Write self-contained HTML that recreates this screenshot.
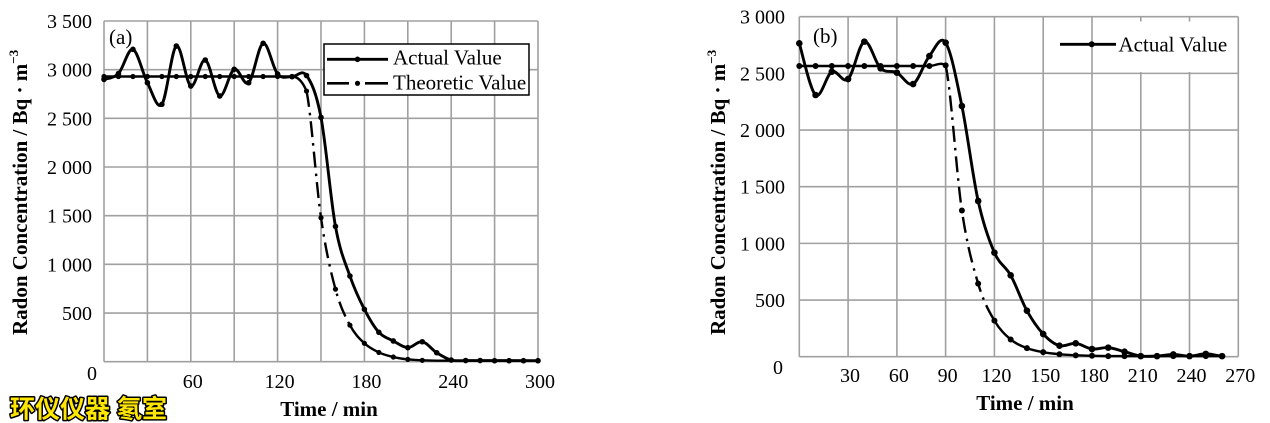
<!DOCTYPE html>
<html><head><meta charset="utf-8">
<style>html,body{margin:0;padding:0;background:#fff;}svg{display:block}</style>
</head><body>
<svg width="1270" height="423" xmlns="http://www.w3.org/2000/svg" font-family="'Liberation Serif', 'Times New Roman', serif">
<rect width="1270" height="423" fill="#fff"/>
<!-- Grid (a) -->
<g stroke="#a0a0a0" stroke-width="1.6" fill="none">
  <line x1="104" y1="21" x2="104" y2="361.7"/>
  <line x1="147.4" y1="21" x2="147.4" y2="361.7"/>
  <line x1="190.8" y1="21" x2="190.8" y2="361.7"/>
  <line x1="234.2" y1="21" x2="234.2" y2="361.7"/>
  <line x1="277.6" y1="21" x2="277.6" y2="361.7"/>
  <line x1="321" y1="21" x2="321" y2="361.7"/>
  <line x1="364.4" y1="21" x2="364.4" y2="361.7"/>
  <line x1="407.8" y1="21" x2="407.8" y2="361.7"/>
  <line x1="451.2" y1="21" x2="451.2" y2="361.7"/>
  <line x1="494.6" y1="21" x2="494.6" y2="361.7"/>
  <line x1="538" y1="21" x2="538" y2="361.7"/>
  <line x1="104" y1="21" x2="538" y2="21"/>
  <line x1="104" y1="69.67" x2="538" y2="69.67"/>
  <line x1="104" y1="118.34" x2="538" y2="118.34"/>
  <line x1="104" y1="167.01" x2="538" y2="167.01"/>
  <line x1="104" y1="215.68" x2="538" y2="215.68"/>
  <line x1="104" y1="264.35" x2="538" y2="264.35"/>
  <line x1="104" y1="313.02" x2="538" y2="313.02"/>
  <line x1="104" y1="361.69" x2="538" y2="361.69"/>
</g>
<!-- Grid (b) -->
<g stroke="#a0a0a0" stroke-width="1.6" fill="none">
  <line x1="799.3" y1="16.7" x2="799.3" y2="356.7"/>
  <line x1="848.1" y1="16.7" x2="848.1" y2="356.7"/>
  <line x1="896.9" y1="16.7" x2="896.9" y2="356.7"/>
  <line x1="945.6" y1="16.7" x2="945.6" y2="356.7"/>
  <line x1="994.4" y1="16.7" x2="994.4" y2="356.7"/>
  <line x1="1043.2" y1="16.7" x2="1043.2" y2="356.7"/>
  <line x1="1092" y1="16.7" x2="1092" y2="356.7"/>
  <line x1="1140.8" y1="16.7" x2="1140.8" y2="356.7"/>
  <line x1="1189.5" y1="16.7" x2="1189.5" y2="356.7"/>
  <line x1="1238.3" y1="16.7" x2="1238.3" y2="356.7"/>
  <line x1="799.3" y1="16.7" x2="1238.3" y2="16.7"/>
  <line x1="799.3" y1="73.37" x2="1238.3" y2="73.37"/>
  <line x1="799.3" y1="130.04" x2="1238.3" y2="130.04"/>
  <line x1="799.3" y1="186.71" x2="1238.3" y2="186.71"/>
  <line x1="799.3" y1="243.38" x2="1238.3" y2="243.38"/>
  <line x1="799.3" y1="300.05" x2="1238.3" y2="300.05"/>
  <line x1="799.3" y1="356.72" x2="1238.3" y2="356.72"/>
</g>
<!-- legend backgrounds -->
<rect x="324" y="44" width="205" height="51" fill="#fff" stroke="#000" stroke-width="1.5"/>
<rect x="1095" y="21.5" width="141.5" height="50.5" fill="#fff"/>

<!-- ===== Series (a) ===== -->
<g fill="none" stroke="#000" stroke-linejoin="round">
  <!-- theoretical -->
  <path stroke-width="2.4" stroke-linecap="round" d="M104 76.49 L292.07 76.49 C297 76.49 302 80 306.53 91.09"/>
  <path stroke-width="2.4" stroke-dasharray="16 6 2.5 6" d="M306.53 91.09 C311.35 114.63 316.18 184.71 321.00 217.73 S330.65 271.27 335.47 289.18 S345.11 316.18 349.93 325.20"/>
  <path stroke-width="2.4" stroke-linecap="round" d="M349.93 325.20 C354.75 334.22 359.58 338.76 364.40 343.30 S374.05 350.16 378.87 352.45 S388.51 355.88 393.33 357.03 S402.98 358.81 407.80 359.36 S417.45 360.11 422.27 360.34 L436.73 360.73 L538 360.73"/>
  <!-- actual -->
  <path stroke-width="2.9" stroke-linecap="round" d="M104 79.41 C106.41 78.44 113.65 78.58 118.47 73.57 S128.11 47.82 132.93 49.34 S142.58 73.56 147.40 82.72 S157.05 110.45 161.87 104.33 S171.51 49.08 176.33 46.03 S185.98 83.70 190.80 86.03 S200.45 58.39 205.27 60.04 S214.91 94.42 219.73 95.96 S229.38 71.50 234.20 69.29 S243.85 87.05 248.67 82.72 S258.31 44.76 263.13 43.30 S272.78 68.40 277.60 73.96 S287.25 76.43 292.07 76.69 S301.71 68.74 306.53 75.52 S316.18 92.23 321.00 117.38 S330.65 199.96 335.47 226.40 S345.11 262.22 349.93 276.04 S359.58 299.95 364.40 309.33 S374.05 327.03 378.87 332.30 S388.51 338.41 393.33 340.97 S402.98 347.55 407.80 347.68 S417.45 340.91 422.27 341.75 S431.91 349.69 436.73 352.74 S446.38 358.75 451.20 360.05 S460.85 360.45 465.67 360.53 L480.13 360.53 L538 360.73"/>
</g>
<g fill="#000">
  <!-- theoretical markers (a) -->
  <circle cx="104" cy="76.49" r="2.6"/><circle cx="118.47" cy="76.49" r="2.6"/><circle cx="132.93" cy="76.49" r="2.6"/><circle cx="147.40" cy="76.49" r="2.6"/><circle cx="161.87" cy="76.49" r="2.6"/><circle cx="176.33" cy="76.49" r="2.6"/><circle cx="190.80" cy="76.49" r="2.6"/><circle cx="205.27" cy="76.49" r="2.6"/><circle cx="219.73" cy="76.49" r="2.6"/><circle cx="234.20" cy="76.49" r="2.6"/><circle cx="248.67" cy="76.49" r="2.6"/><circle cx="263.13" cy="76.49" r="2.6"/><circle cx="277.60" cy="76.49" r="2.6"/><circle cx="292.07" cy="76.49" r="2.6"/>
  <circle cx="306.53" cy="91.09" r="2.6"/><circle cx="321.00" cy="217.73" r="2.6"/><circle cx="335.47" cy="289.18" r="2.6"/><circle cx="349.93" cy="325.20" r="2.6"/><circle cx="364.40" cy="343.30" r="2.6"/><circle cx="378.87" cy="352.45" r="2.6"/><circle cx="393.33" cy="357.03" r="2.6"/><circle cx="407.80" cy="359.36" r="2.6"/><circle cx="422.27" cy="360.34" r="2.6"/>
  <!-- actual markers (a) -->
  <circle cx="104" cy="79.41" r="2.8"/><circle cx="118.47" cy="73.57" r="2.8"/><circle cx="132.93" cy="49.34" r="2.8"/><circle cx="147.40" cy="82.72" r="2.8"/><circle cx="161.87" cy="104.33" r="2.8"/><circle cx="176.33" cy="46.03" r="2.8"/><circle cx="190.80" cy="86.03" r="2.8"/><circle cx="205.27" cy="60.04" r="2.8"/><circle cx="219.73" cy="95.96" r="2.8"/><circle cx="234.20" cy="69.29" r="2.8"/><circle cx="248.67" cy="82.72" r="2.8"/><circle cx="263.13" cy="43.30" r="2.8"/><circle cx="277.60" cy="73.96" r="2.8"/><circle cx="292.07" cy="76.69" r="2.8"/><circle cx="306.53" cy="75.52" r="2.8"/><circle cx="321.00" cy="117.38" r="2.8"/><circle cx="335.47" cy="226.40" r="2.8"/><circle cx="349.93" cy="276.04" r="2.8"/><circle cx="364.40" cy="309.33" r="2.8"/><circle cx="378.87" cy="332.30" r="2.8"/><circle cx="393.33" cy="340.97" r="2.8"/><circle cx="407.80" cy="347.68" r="2.8"/><circle cx="422.27" cy="341.75" r="2.8"/><circle cx="436.73" cy="352.74" r="2.8"/><circle cx="451.20" cy="360.05" r="2.8"/><circle cx="465.67" cy="360.53" r="2.8"/><circle cx="480.13" cy="360.53" r="2.8"/><circle cx="494.60" cy="360.73" r="2.8"/><circle cx="509.07" cy="360.73" r="2.8"/><circle cx="523.53" cy="360.73" r="2.8"/><circle cx="538" cy="360.73" r="2.8"/>
</g>

<!-- ===== Series (b) ===== -->
<g fill="none" stroke="#000" stroke-linejoin="round">
  <!-- theoretical -->
  <path stroke-width="2.4" stroke-linecap="round" d="M799.3 66 L929.38 66 C935 66 941 61.5 945.64 65.43"/>
  <path stroke-width="2.4" stroke-dasharray="16 6 2.5 6" d="M945.64 65.43 C951.06 89.51 956.48 174.14 961.90 210.50 S972.74 265.24 978.16 283.60 S989.00 311.35 994.42 320.66"/>
  <path stroke-width="2.4" stroke-linecap="round" d="M994.42 320.66 C999.84 329.97 1005.26 334.90 1010.68 339.47 S1021.52 345.97 1026.94 348.09 S1037.78 351.15 1043.20 352.17 S1054.04 353.68 1059.46 354.21 S1070.30 355.08 1075.72 355.34 L1091.98 355.79 L1108.24 356.13 L1222.06 356.13"/>
  <!-- actual -->
  <path stroke-width="2.9" stroke-linecap="round" d="M799.3 43.33 C802.01 51.94 810.14 90.29 815.56 95.01 S826.40 74.33 831.82 71.67 S842.66 84.04 848.08 79.03 S858.92 43.42 864.34 41.63 S875.18 63.09 880.60 68.27 S891.44 70.06 896.86 72.69 S907.70 86.80 913.12 84.02 S923.96 62.93 929.38 56.03 S940.22 34.32 945.64 42.65 S956.48 79.62 961.90 106.01 S972.74 176.54 978.16 200.98 S989.00 240.27 994.42 252.66 S1005.26 265.66 1010.68 275.33 S1021.52 300.91 1026.94 310.69 S1037.78 328.19 1043.20 334.03 S1054.04 344.16 1059.46 345.71 S1070.30 342.78 1075.72 343.33 S1086.56 348.27 1091.98 348.99 S1102.82 347.18 1108.24 347.63 S1119.08 350.29 1124.50 351.71 S1135.34 355.39 1140.76 356.13 S1151.60 356.41 1157.02 356.13 S1167.86 354.43 1173.28 354.43 S1184.12 356.22 1189.54 356.13 S1200.38 353.87 1205.80 353.87 S1216.64 355.75 1222.06 356.13"/>
</g>
<g fill="#000">
  <!-- theoretical markers (b) -->
  <circle cx="799.3" cy="66" r="3"/><circle cx="815.56" cy="66" r="3"/><circle cx="831.82" cy="66" r="3"/><circle cx="848.08" cy="66" r="3"/><circle cx="864.34" cy="66" r="3"/><circle cx="880.60" cy="66" r="3"/><circle cx="896.86" cy="66" r="3"/><circle cx="913.12" cy="66" r="3"/><circle cx="929.38" cy="66" r="3"/><circle cx="945.64" cy="65.43" r="3"/>
  <circle cx="961.90" cy="210.50" r="3"/><circle cx="978.16" cy="283.60" r="3"/><circle cx="994.42" cy="320.66" r="3"/><circle cx="1010.68" cy="339.47" r="3"/><circle cx="1026.94" cy="348.09" r="3"/><circle cx="1043.20" cy="352.17" r="3"/><circle cx="1059.46" cy="354.21" r="3"/><circle cx="1075.72" cy="355.34" r="3"/><circle cx="1091.98" cy="355.79" r="3"/><circle cx="1108.24" cy="356.13" r="3"/><circle cx="1124.50" cy="356.13" r="3"/><circle cx="1140.76" cy="356.13" r="3"/><circle cx="1157.02" cy="356.13" r="3"/><circle cx="1173.28" cy="356.13" r="3"/><circle cx="1189.54" cy="356.13" r="3"/><circle cx="1205.80" cy="356.13" r="3"/><circle cx="1222.06" cy="356.13" r="3"/>
  <!-- actual markers (b) -->
  <circle cx="799.3" cy="43.33" r="3.3"/><circle cx="815.56" cy="95.01" r="3.3"/><circle cx="831.82" cy="71.67" r="3.3"/><circle cx="848.08" cy="79.03" r="3.3"/><circle cx="864.34" cy="41.63" r="3.3"/><circle cx="880.60" cy="68.27" r="3.3"/><circle cx="896.86" cy="72.69" r="3.3"/><circle cx="913.12" cy="84.02" r="3.3"/><circle cx="929.38" cy="56.03" r="3.3"/><circle cx="945.64" cy="42.65" r="3.3"/><circle cx="961.90" cy="106.01" r="3.3"/><circle cx="978.16" cy="200.98" r="3.3"/><circle cx="994.42" cy="252.66" r="3.3"/><circle cx="1010.68" cy="275.33" r="3.3"/><circle cx="1026.94" cy="310.69" r="3.3"/><circle cx="1043.20" cy="334.03" r="3.3"/><circle cx="1059.46" cy="345.71" r="3.3"/><circle cx="1075.72" cy="343.33" r="3.3"/><circle cx="1091.98" cy="348.99" r="3.3"/><circle cx="1108.24" cy="347.63" r="3.3"/><circle cx="1124.50" cy="351.71" r="3.3"/><circle cx="1140.76" cy="356.13" r="3.3"/><circle cx="1157.02" cy="356.13" r="3.3"/><circle cx="1173.28" cy="354.43" r="3.3"/><circle cx="1189.54" cy="356.13" r="3.3"/><circle cx="1205.80" cy="353.87" r="3.3"/><circle cx="1222.06" cy="356.13" r="3.3"/>
</g>

<!-- Legend (a) -->
<g stroke="#000" fill="none">
  <line x1="327" y1="59.3" x2="388" y2="59.3" stroke-width="2.8"/>
  <line x1="327" y1="83.3" x2="349" y2="83.3" stroke-width="2.6"/>
  <line x1="365" y1="83.3" x2="388" y2="83.3" stroke-width="2.6"/>
</g>
<circle cx="357.5" cy="59.3" r="2.8" fill="#000"/>
<circle cx="357.5" cy="83.3" r="2.6" fill="#000"/>
<text x="393" y="64.5" font-size="21" fill="#000">Actual Value</text>
<text x="393" y="89.5" font-size="21" fill="#000">Theoretic Value</text>
<!-- Legend (b) -->
<line x1="1060" y1="44.3" x2="1116" y2="44.3" stroke="#000" stroke-width="2.8"/>
<circle cx="1091.7" cy="44.3" r="3" fill="#000"/>
<text x="1118.5" y="51.5" font-size="21" fill="#000">Actual Value</text>

<!-- panel labels -->
<text x="109" y="44" font-size="21" fill="#000">(a)</text>
<text x="813" y="43" font-size="21" fill="#000">(b)</text>

<!-- Y tick labels (a) -->
<g font-size="20" fill="#000" text-anchor="end">
  <text x="92" y="28">3 500</text>
  <text x="92" y="76.7">3 000</text>
  <text x="92" y="125.3">2 500</text>
  <text x="92" y="174">2 000</text>
  <text x="92" y="222.7">1 500</text>
  <text x="92" y="271.4">1 000</text>
  <text x="92" y="320">500</text>
  <text x="97" y="380">0</text>
</g>
<!-- X tick labels (a) -->
<g font-size="20" fill="#000" text-anchor="middle">
  <text x="192.8" y="388">60</text>
  <text x="279.6" y="388">120</text>
  <text x="366.4" y="388">180</text>
  <text x="453.2" y="388">240</text>
  <text x="540" y="388">300</text>
</g>
<!-- Y tick labels (b) -->
<g font-size="20" fill="#000" text-anchor="end">
  <text x="785" y="23.7">3 000</text>
  <text x="785" y="80.4">2 500</text>
  <text x="785" y="137">2 000</text>
  <text x="785" y="193.7">1 500</text>
  <text x="785" y="250.4">1 000</text>
  <text x="785" y="307">500</text>
  <text x="783" y="374">0</text>
</g>
<!-- X tick labels (b) -->
<g font-size="20" fill="#000" text-anchor="middle">
  <text x="850" y="382">30</text>
  <text x="898.9" y="382">60</text>
  <text x="947.6" y="382">90</text>
  <text x="996.4" y="382">120</text>
  <text x="1045.2" y="382">150</text>
  <text x="1094" y="382">180</text>
  <text x="1142.8" y="382">210</text>
  <text x="1191.5" y="382">240</text>
  <text x="1240.3" y="382">270</text>
</g>

<!-- Axis titles -->
<text x="329" y="416" font-size="21" font-weight="bold" text-anchor="middle" fill="#000">Time / min</text>
<text x="1025" y="410" font-size="21" font-weight="bold" text-anchor="middle" fill="#000">Time / min</text>
<text transform="translate(27,335) rotate(-90)" font-size="21" font-weight="bold" fill="#000">Radon Concentration / Bq · m<tspan font-size="13" dy="-9">−3</tspan></text>
<text transform="translate(725,335) rotate(-90)" font-size="21" font-weight="bold" fill="#000">Radon Concentration / Bq · m<tspan font-size="13" dy="-9">−3</tspan></text>

<!-- watermark -->
<text x="10" y="417.5" font-size="25" font-weight="bold" font-family="'Liberation Sans','Noto Sans CJK SC',sans-serif" fill="#ffe600" stroke="#000" stroke-width="3" paint-order="stroke" stroke-linejoin="round">环仪仪器 氡室</text>
</svg>
</body></html>
